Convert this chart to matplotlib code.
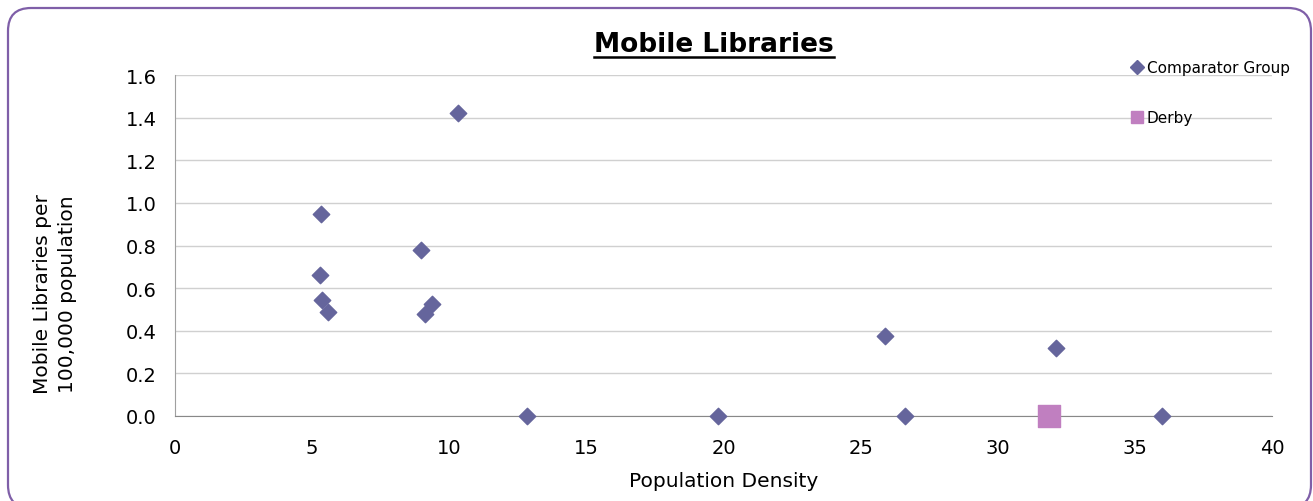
import matplotlib
matplotlib.use("Agg")
import matplotlib.pyplot as plt
from matplotlib.patches import FancyBboxPatch
from matplotlib.transforms import IdentityTransform

comp_x = [5.32, 5.29, 5.36, 5.58, 8.97, 9.11, 9.37, 10.32, 12.83, 19.8, 25.88, 26.61, 32.12, 35.98]
comp_y = [0.948, 0.662, 0.544, 0.488, 0.779, 0.479, 0.526, 1.422, 0.0, 0.0, 0.375, 0.0, 0.319, 0.0]
derby_x = [31.86]
derby_y = [0.0]
x_ticks = [0, 5, 10, 15, 20, 25, 30, 35, 40]
y_ticks = [0.0, 0.2, 0.4, 0.6, 0.8, 1.0, 1.2, 1.4, 1.6]

plt.rcParams['font.family'] = ['DejaVu Sans']
W, H = 1313, 502
fig = plt.figure(figsize=(W/100, H/100), dpi=100)

# rounded border in pixel coordinates (bottom extends past the image)
border = FancyBboxPatch((8, H - 509), 1303, 500,
                        boxstyle="round,pad=0,rounding_size=23",
                        transform=IdentityTransform(), fill=False,
                        edgecolor='#7F5FA8', linewidth=1.6)
fig.patches.append(border)

ax = fig.add_axes([175/W, 1-417/H, (1272-175)/W, (417-76)/H])
ax.set_xlim(0, 40)
ax.set_ylim(0, 1.6)
ax.set_xticks(x_ticks)
ax.set_xticklabels([str(t) for t in x_ticks])
ax.set_yticks(y_ticks)
ax.set_yticklabels([f"{t:.1f}" for t in y_ticks])
ax.grid(axis='y', color='#D0D0D0', linewidth=1)
ax.set_axisbelow(True)
for s in ['top', 'right']:
    ax.spines[s].set_visible(False)
ax.spines['left'].set_color('#A0A0A0')
ax.spines['bottom'].set_color('#888888')
ax.tick_params(axis='x', length=0, labelsize=14, pad=16)
ax.tick_params(axis='y', length=0, labelsize=14, pad=13)

ax.scatter(comp_x, comp_y, marker='D', s=70, color='#65659C', zorder=3,
           clip_on=False, label='Comparator Group')
ax.scatter(derby_x, derby_y, marker='s', s=230, color='#C07FC0', zorder=3,
           clip_on=False, label='Derby')

ax.set_xlabel('Population Density', fontsize=14.5)
ax.xaxis.set_label_coords(0.5, (417-482)/341)
ax.xaxis.label.set_va('center')
ax.set_ylabel('Mobile Libraries per\n100,000 population', fontsize=14.5, linespacing=1.45)
ax.yaxis.set_label_coords((55-175)/1097, (417-294)/341)
ax.yaxis.label.set_va('center')

title = fig.text(714 / W, 1 - 45/H, 'Mobile Libraries', fontsize=19,
                 fontweight='bold', ha='center', va='center')

# underline title
fig.canvas.draw()
bb = title.get_window_extent(fig.canvas.get_renderer())
fig.add_artist(plt.Line2D([bb.x0 / W, bb.x1 / W], [1 - 58/H, 1 - 58/H], color='black',
                          linewidth=1.8, transform=fig.transFigure))

# legend
fig.text(1147/W, 1-68/H, 'Comparator Group', fontsize=11, va='center', ha='left')
fig.text(1147/W, 1-118/H, 'Derby', fontsize=11, va='center', ha='left')
fig.add_artist(plt.Line2D([1137/W], [1-68/H], marker='D', markersize=7,
                          color='#65659C', linestyle='none', transform=fig.transFigure))
fig.add_artist(plt.Line2D([1137/W], [1-118/H], marker='s', markersize=8.5,
                          color='#C07FC0', linestyle='none', transform=fig.transFigure))

fig.savefig('out.png', dpi=100)
